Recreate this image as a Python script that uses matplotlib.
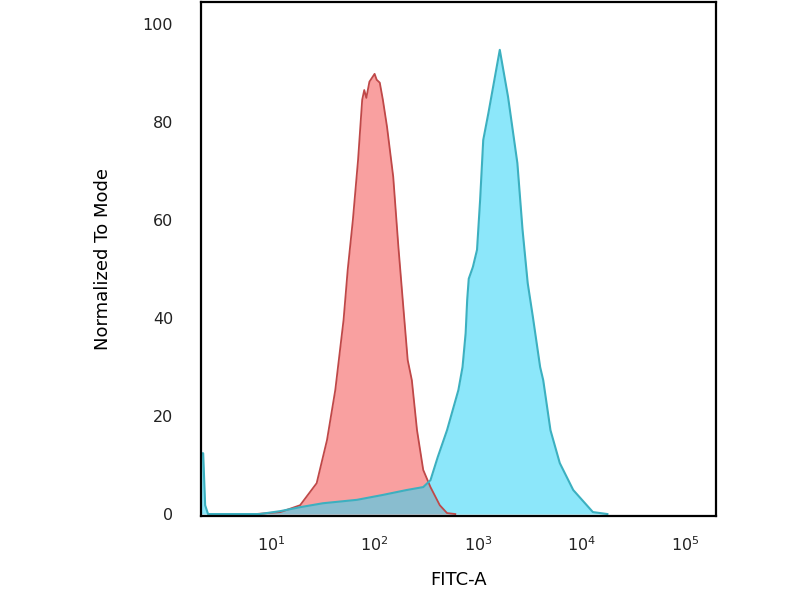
import numpy as np
import matplotlib
matplotlib.use("Agg")
import matplotlib.pyplot as plt

# isotype control (red), log10 of FITC-A and normalized count
red_log10 = [0.85, 1.09, 1.28, 1.44, 1.54, 1.62, 1.70, 1.74, 1.79, 1.84, 1.88, 1.90,
             1.92, 1.95, 2.00, 2.02, 2.05, 2.08, 2.12, 2.18, 2.23, 2.28, 2.32, 2.36,
             2.41, 2.47, 2.54, 2.63, 2.70, 2.78]
red_mode = [0.0, 0.4, 1.8, 6.3, 15.1, 25.3, 39.6, 49.8, 60.0, 72.2, 84.5, 86.5,
            84.9, 88.2, 89.8, 88.6, 88.0, 84.5, 79.0, 68.8, 54.5, 41.6, 31.4, 27.3,
            17.1, 9.0, 5.5, 1.8, 0.2, 0.0]

# stained sample (blue)
blue_log10 = [0.32, 0.343, 0.362, 0.39, 0.89, 1.09, 1.28, 1.50, 1.83, 2.08, 2.31, 2.47,
              2.54, 2.61, 2.70, 2.81, 2.85, 2.88, 2.895, 2.91, 2.95, 2.99, 3.02, 3.05,
              3.10, 3.21, 3.29, 3.38, 3.43, 3.48, 3.53, 3.60, 3.63, 3.70, 3.79, 3.92,
              4.11, 4.25]
blue_mode = [12.4, 12.4, 1.8, 0.0, 0.0, 0.6, 1.4, 2.2, 2.9, 3.9, 4.9, 5.5,
             6.9, 11.6, 17.1, 25.3, 30.0, 36.9, 43.7, 48.0, 50.4, 53.9, 64.1, 76.3,
             81.8, 94.7, 85.1, 71.6, 58.0, 47.1, 40.2, 30.0, 27.3, 17.1, 10.4, 4.9,
             0.4, 0.0]

y_ticks = [0, 20, 40, 60, 80, 100]
x_ticks = [1e1, 1e2, 1e3, 1e4, 1e5]

red_x = 10 ** np.array(red_log10)
blue_x = 10 ** np.array(blue_log10)

fig = plt.figure(figsize=(8, 6), dpi=100)
ax = fig.add_axes([0.251, 0.14, 0.644, 0.857])

ax.fill_between(red_x, red_mode, 0, color="#f9a0a0", lw=0)
ax.fill_between(blue_x, blue_mode, 0, color=(46/255, 213/255, 246/255), alpha=0.55, lw=0)
ax.plot(red_x, red_mode, color="#bf4848", lw=1.3)
ax.plot(blue_x, blue_mode, color="#3cb0c0", lw=1.5)

ax.set_xscale("log")
ax.set_xlim(10 ** 0.32, 10 ** 5.30)
ax.set_ylim(-0.4, 104.5)
ax.set_xticks(x_ticks)
ax.set_yticks(y_ticks)
ax.minorticks_off()
ax.tick_params(axis="both", length=0, labelsize=11.5, colors="#222222")
ax.tick_params(axis="y", pad=20)
ax.tick_params(axis="x", pad=14)

for s in ax.spines.values():
    s.set_linewidth(1.6)
    s.set_color("black")

ax.set_xlabel("FITC-A", fontsize=13, labelpad=12)
ax.set_ylabel("Normalized To Mode", fontsize=13, labelpad=22)

fig.savefig("out.png", dpi=100)
